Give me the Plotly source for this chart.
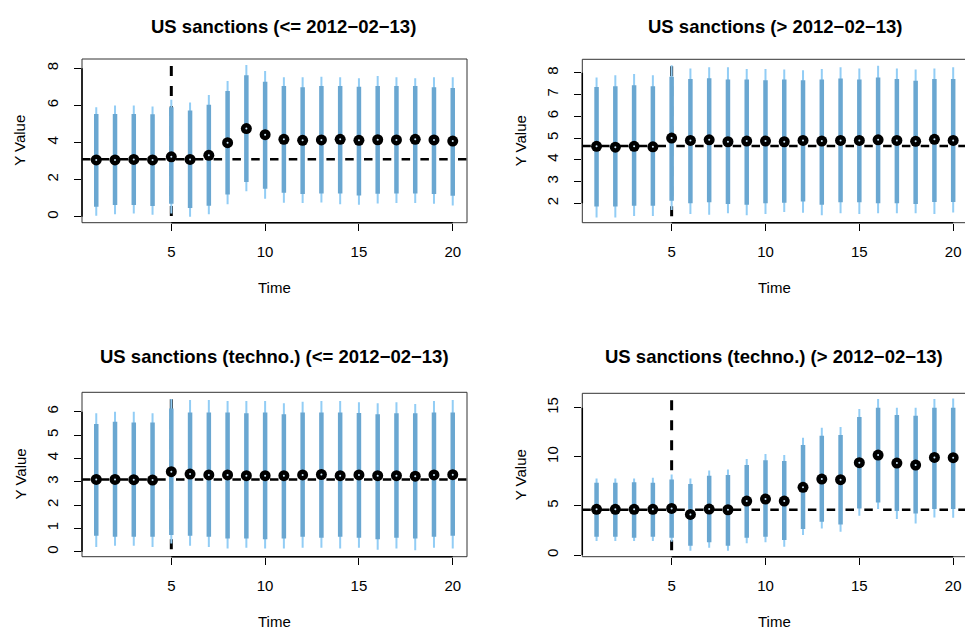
import plotly.graph_objects as go

W, H = 965, 630
time = list(range(1, 21))

titles = ["US sanctions (<= 2012−02−13)", "US sanctions (> 2012−02−13)",
          "US sanctions (techno.) (<= 2012−02−13)", "US sanctions (techno.) (> 2012−02−13)"]

# panel 1
p1_est = [3.06, 3.06, 3.09, 3.06, 3.23, 3.09, 3.31, 3.99, 4.75, 4.42, 4.17, 4.12, 4.14, 4.17, 4.12, 4.15, 4.14, 4.17, 4.14, 4.08]
p1_lo80 = [0.54, 0.63, 0.63, 0.58, 0.70, 0.47, 0.59, 1.20, 1.87, 1.51, 1.29, 1.22, 1.26, 1.26, 1.15, 1.24, 1.26, 1.26, 1.22, 1.13]
p1_hi80 = [5.54, 5.54, 5.54, 5.52, 5.90, 5.72, 6.03, 6.78, 7.63, 7.28, 7.05, 6.98, 7.05, 7.05, 7.01, 7.05, 7.05, 7.05, 6.98, 6.94]
p1_lo95 = [0.05, 0.14, 0.18, 0.11, 0.18, 0.00, 0.13, 0.68, 1.38, 0.97, 0.76, 0.74, 0.77, 0.68, 0.65, 0.72, 0.74, 0.74, 0.70, 0.61]
p1_hi95 = [5.90, 5.99, 5.99, 5.94, 6.30, 6.15, 6.56, 7.32, 8.18, 7.86, 7.52, 7.52, 7.55, 7.52, 7.46, 7.59, 7.52, 7.46, 7.52, 7.52]
p1_ref = 3.1

# panel 2
p2_est = [4.62, 4.58, 4.62, 4.60, 5.00, 4.89, 4.92, 4.83, 4.86, 4.86, 4.83, 4.89, 4.86, 4.89, 4.89, 4.92, 4.89, 4.85, 4.94, 4.89]
p2_lo80 = [1.85, 1.85, 1.89, 1.89, 2.12, 2.00, 2.05, 1.97, 1.94, 2.00, 2.03, 2.09, 1.94, 2.05, 2.05, 2.00, 2.00, 1.97, 2.06, 2.06]
p2_hi80 = [7.35, 7.38, 7.43, 7.38, 7.82, 7.72, 7.75, 7.69, 7.69, 7.66, 7.69, 7.66, 7.69, 7.74, 7.69, 7.78, 7.72, 7.63, 7.72, 7.71]
p2_lo95 = [1.35, 1.35, 1.42, 1.42, 1.69, 1.51, 1.48, 1.54, 1.45, 1.51, 1.60, 1.57, 1.45, 1.54, 1.51, 1.54, 1.54, 1.54, 1.51, 1.58]
p2_hi95 = [7.78, 7.89, 7.94, 7.89, 8.35, 8.20, 8.25, 8.25, 8.17, 8.17, 8.15, 8.12, 8.17, 8.25, 8.20, 8.32, 8.20, 8.15, 8.20, 8.25]
p2_ref = 4.63

# panel 3
p3_est = [3.10, 3.10, 3.09, 3.07, 3.43, 3.33, 3.29, 3.29, 3.26, 3.26, 3.26, 3.29, 3.31, 3.26, 3.29, 3.26, 3.26, 3.24, 3.29, 3.30]
p3_lo80 = [0.69, 0.64, 0.64, 0.64, 0.72, 0.69, 0.64, 0.57, 0.57, 0.54, 0.57, 0.64, 0.60, 0.64, 0.60, 0.54, 0.60, 0.57, 0.64, 0.69]
p3_hi80 = [5.47, 5.57, 5.54, 5.54, 6.14, 5.97, 5.97, 5.97, 5.93, 5.97, 5.89, 5.97, 5.97, 5.97, 5.94, 5.89, 5.93, 5.93, 5.97, 5.97]
p3_lo95 = [0.21, 0.26, 0.26, 0.21, 0.35, 0.26, 0.21, 0.14, 0.17, 0.14, 0.14, 0.17, 0.17, 0.14, 0.17, 0.09, 0.14, 0.07, 0.17, 0.14]
p3_hi95 = [5.93, 6.00, 6.00, 5.93, 6.54, 6.50, 6.50, 6.46, 6.46, 6.46, 6.36, 6.43, 6.46, 6.46, 6.40, 6.36, 6.40, 6.33, 6.46, 6.50]
p3_ref = 3.1

# panel 4
p4_est = [4.65, 4.65, 4.65, 4.65, 4.75, 4.14, 4.68, 4.61, 5.50, 5.70, 5.50, 6.89, 7.74, 7.67, 9.40, 10.18, 9.37, 9.16, 9.94, 9.91]
p4_lo80 = [1.87, 1.87, 1.76, 1.87, 1.76, 0.95, 1.29, 0.95, 1.76, 1.87, 1.53, 2.65, 3.39, 3.12, 4.75, 5.36, 4.48, 4.24, 4.68, 4.68]
p4_hi80 = [7.36, 7.36, 7.40, 7.36, 7.70, 7.23, 8.08, 8.14, 9.16, 9.64, 9.57, 11.20, 12.15, 12.22, 14.05, 15.00, 14.25, 14.18, 15.00, 15.00]
p4_lo95 = [1.43, 1.43, 1.43, 1.43, 1.36, 0.44, 0.75, 0.44, 1.19, 1.29, 0.85, 2.04, 2.71, 2.38, 4.00, 4.68, 3.66, 3.22, 3.83, 3.80]
p4_hi95 = [7.80, 7.80, 7.80, 7.87, 8.21, 7.80, 8.62, 8.72, 9.77, 10.28, 10.18, 11.94, 12.96, 13.03, 14.86, 15.88, 15.00, 15.00, 15.88, 15.95]
p4_ref = 4.61

intervention = 5

y_ticks = [[0, 2, 4, 6, 8], [2, 3, 4, 5, 6, 7, 8], [0, 1, 2, 3, 4, 5, 6], [0, 5, 10, 15]]
x_ticks = [5, 10, 15, 20]

panels = [
    (p1_est, p1_lo80, p1_hi80, p1_lo95, p1_hi95, p1_ref),
    (p2_est, p2_lo80, p2_hi80, p2_lo95, p2_hi95, p2_ref),
    (p3_est, p3_lo80, p3_hi80, p3_lo95, p3_hi95, p3_ref),
    (p4_est, p4_lo80, p4_hi80, p4_lo95, p4_hi95, p4_ref),
]

# layout in pixels: (left, right, top, bottom)
boxes = [(82, 467, 59, 222.7), (582.3, 965, 59.3, 222.7),
         (82, 467, 392.3, 556.7), (582.3, 965, 393.3, 556.7)]
xranges = [[0.24, 20.76], [0.24, 20.63], [0.24, 20.76], [0.24, 20.63]]
yranges = [[-0.32, 8.5], [1.11, 8.62], [-0.21, 6.83], [-0.17, 16.47]]
title_pos = [(283, 27), (775, 27), (274.5, 356), (773.5, 356)]
time_y = [288, 288, 621, 621]

FONT = "Liberation Sans, Arial, Helvetica, sans-serif"
THIN = "#92cdf5"
THICK = "#6aa7d1"

fig = go.Figure()
layout = dict(width=W, height=H, margin=dict(l=0, r=0, t=0, b=0),
              paper_bgcolor="white", plot_bgcolor="white", showlegend=False,
              font=dict(family=FONT, size=15, color="black"))
shapes, annotations = [], []

for k, (est, lo80, hi80, lo95, hi95, ref) in enumerate(panels):
    n = "" if k == 0 else str(k + 1)
    xa, ya = "x" + n, "y" + n
    L, R, T, B = boxes[k]
    layout["xaxis" + n] = dict(domain=[L / W, min(R / W, 1.0)], range=xranges[k], anchor=ya,
                               tickvals=x_ticks, ticks="outside", ticklen=7, tickcolor="black",
                               showgrid=False, zeroline=False, showline=False,
                               ticklabelstandoff=8, tickfont=dict(size=15))
    layout["yaxis" + n] = dict(domain=[1 - B / H, 1 - T / H], range=yranges[k], anchor=xa,
                               tickvals=y_ticks[k], ticks="outside", ticklen=7, tickcolor="black",
                               showgrid=False, zeroline=False, showline=False, tickangle=-90,
                               ticklabelstandoff=10, tickfont=dict(size=15))
    y0, y1 = yranges[k]
    span = y1 - y0
    # vertical intervention line
    fig.add_trace(go.Scatter(x=[intervention, intervention], y=[y1 + span * 0.08, y0 - span * 0.1],
                             mode="lines", line=dict(color="black", width=3, dash="10px,10px"),
                             xaxis=xa, yaxis=ya, hoverinfo="skip"))
    # thin (95%) intervals
    xs, ys = [], []
    for t, a, b in zip(time, lo95, hi95):
        xs += [t, t, None]
        ys += [a, b, None]
    fig.add_trace(go.Scatter(x=xs, y=ys, mode="lines", line=dict(color=THIN, width=2),
                             xaxis=xa, yaxis=ya, hoverinfo="skip"))
    # thick (80%) intervals
    xs, ys = [], []
    for t, a, b in zip(time, lo80, hi80):
        xs += [t, t, None]
        ys += [a, b, None]
    fig.add_trace(go.Scatter(x=xs, y=ys, mode="lines", line=dict(color=THICK, width=4.5),
                             xaxis=xa, yaxis=ya, hoverinfo="skip"))
    # reference horizontal line
    fig.add_trace(go.Scatter(x=[xranges[k][0], xranges[k][1] + 1], y=[ref, ref], mode="lines",
                             line=dict(color="black", width=2.5, dash="8.5px,10.3px"),
                             xaxis=xa, yaxis=ya, hoverinfo="skip"))
    # points
    fig.add_trace(go.Scatter(x=time, y=est, mode="markers",
                             marker=dict(color="black", size=11, line=dict(width=0)),
                             xaxis=xa, yaxis=ya, hoverinfo="skip"))
    fig.add_trace(go.Scatter(x=time, y=est, mode="markers",
                             marker=dict(color="#cfe8f8", size=2, line=dict(width=0)),
                             xaxis=xa, yaxis=ya, hoverinfo="skip"))
    # box
    shapes.append(dict(type="rect", xref=xa + " domain", yref=ya + " domain",
                       x0=0, x1=1 if R < W else 1.02, y0=0, y1=1,
                       line=dict(color="#333333", width=1), layer="above"))
    # axis lines (first to last tick)
    shapes.append(dict(type="line", xref=xa, yref=ya + " domain", x0=x_ticks[0], x1=x_ticks[-1],
                       y0=0, y1=0, line=dict(color="black", width=1.5), layer="above"))
    shapes.append(dict(type="line", xref=xa + " domain", yref=ya, x0=0, x1=0,
                       y0=y_ticks[k][0], y1=y_ticks[k][-1], line=dict(color="black", width=1.5),
                       layer="above"))
    # texts
    tx, ty = title_pos[k]
    annotations.append(dict(text="<b>" + titles[k] + "</b>", x=tx / W, y=1 - ty / H,
                            xref="paper", yref="paper", showarrow=False,
                            xanchor="center", yanchor="middle", font=dict(size=18.5)))
    cx = (L + 967.6) / 2 if k % 2 else (L + R) / 2
    annotations.append(dict(text="Time", x=cx / W, y=1 - time_y[k] / H, xref="paper",
                            yref="paper", showarrow=False, xanchor="center", yanchor="middle",
                            font=dict(size=15)))
    annotations.append(dict(text="Y Value", x=(L - 62) / W, y=1 - ((T + B) / 2) / H,
                            xref="paper", yref="paper", showarrow=False, textangle=-90,
                            xanchor="center", yanchor="middle", font=dict(size=15)))

layout["shapes"] = shapes
layout["annotations"] = annotations
fig.update_layout(**layout)
fig.write_html("out.html", config={"displayModeBar": False},
               post_script="document.body.style.margin='0';document.body.style.overflow='hidden';")
